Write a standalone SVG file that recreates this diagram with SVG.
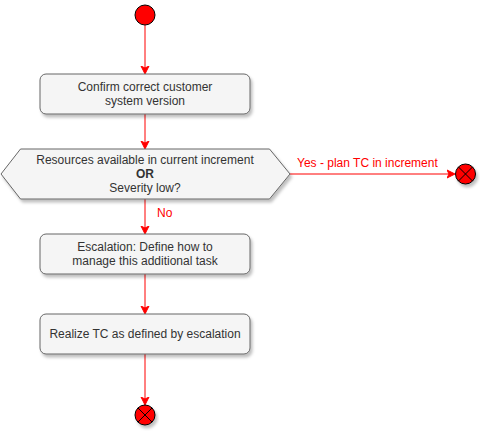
<svg xmlns="http://www.w3.org/2000/svg" width="483" height="433" viewBox="0 0 483 433">
<defs>
<filter id="sh" x="-20%" y="-20%" width="140%" height="150%"><feDropShadow dx="2" dy="3" stdDeviation="1.5" flood-color="#000" flood-opacity="0.25"/></filter>
<marker id="arr" markerWidth="10" markerHeight="10" refX="7" refY="5" orient="auto" markerUnits="userSpaceOnUse"><path d="M0,1 L8,5 L0,9 L2,5 Z" fill="#FF0000" stroke="#FF0000" stroke-width="1"/></marker>
</defs>
<style>
.box{fill:#f5f5f5;stroke:#666666;stroke-width:1;filter:url(#sh)}
.t{font-family:"Liberation Sans",Arial,sans-serif;font-size:12px;fill:#333333;text-anchor:middle}
.lbl{font-family:"Liberation Sans",Arial,sans-serif;font-size:12px;fill:#FF0000}
.e{stroke:#FF0000;stroke-width:1;fill:none;marker-end:url(#arr)}
.end{fill:#FF0000;stroke:#000;stroke-width:1;filter:url(#sh)}
</style>
<rect width="483" height="433" fill="#ffffff"/>
<g id="connectors">
<path class="e" d="M145,25 L145,73"/>
<path class="e" d="M145,114 L145,148"/>
<path class="e" d="M290,174 L454,174"/>
<path class="e" d="M145,199 L145,233"/>
<path class="e" d="M145,274 L145,313"/>
<path class="e" d="M145,354 L145,404"/>
<text class="lbl" x="297" y="167">Yes - plan TC in increment</text>
<text class="lbl" x="157" y="217">No</text>
</g>
<g id="start">
<circle cx="145" cy="15" r="10" fill="#FF0000" stroke="#000" stroke-width="1"/>
</g>
<g id="confirm">
<rect class="box" x="40" y="74" width="210" height="40" rx="6"/>
<text class="t" x="145" y="91">Confirm correct customer</text>
<text class="t" x="145" y="105">system version</text>
</g>
<g id="decision">
<polygon class="box" points="1,174 20.5,149 269.5,149 290,174 269.5,199 20.5,199"/>
<text class="t" x="145" y="164">Resources available in current increment</text>
<text class="t" x="145" y="178" font-weight="bold">OR</text>
<text class="t" x="145" y="192">Severity low?</text>
</g>
<g id="escalation">
<rect class="box" x="40" y="234" width="210" height="40" rx="6"/>
<text class="t" x="145" y="251">Escalation: Define how to</text>
<text class="t" x="145" y="265">manage this additional task</text>
</g>
<g id="realize">
<rect class="box" x="40" y="314" width="210" height="40" rx="6"/>
<text class="t" x="145" y="338">Realize TC as defined by escalation</text>
</g>
<g id="end-right">
<circle class="end" cx="465.5" cy="174" r="10"/>
<path d="M458.4,166.9 L472.6,181.1 M472.6,166.9 L458.4,181.1" stroke="#000" stroke-width="1"/>
</g>
<g id="end-bottom">
<circle class="end" cx="145" cy="415" r="10"/>
<path d="M137.9,407.9 L152.1,422.1 M152.1,407.9 L137.9,422.1" stroke="#000" stroke-width="1"/>
</g>
</svg>
